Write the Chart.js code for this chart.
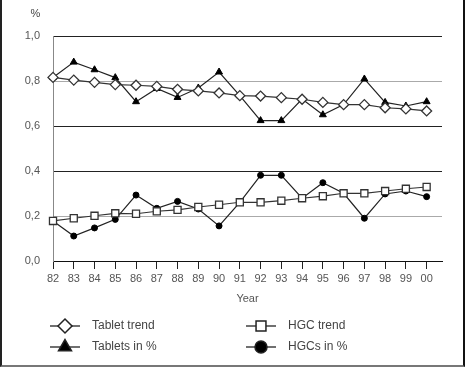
<!DOCTYPE html>
<html>
<head>
    <title>Tablets and HGCs</title>
    <style>
        body { margin: 0; background: #fff; }
        #frame { position: absolute; left: 0; top: 0; width: 465px; height: 367px; box-sizing: border-box;
                 border-left: 2px solid #222; border-right: 2px solid #111; border-bottom: 2px solid #777; }
        #chart { position: absolute; left: 0; top: 0; }
    </style>
</head>
<body>
    <div id="frame"></div>
    <canvas id="chart" width="465" height="369"></canvas>
    <script src="https://cdn.jsdelivr.net/npm/chart.js"></script>
    <script>
        const years = [82, 83, 84, 85, 86, 87, 88, 89, 90, 91, 92, 93, 94, 95, 96, 97, 98, 99, 100];
        const yearLabels = ['82', '83', '84', '85', '86', '87', '88', '89', '90', '91', '92', '93', '94', '95', '96', '97', '98', '99', '00'];
        const tabletTrend = [0.816, 0.804, 0.794, 0.784, 0.781, 0.776, 0.763, 0.756, 0.747, 0.735, 0.733, 0.726, 0.719, 0.705, 0.695, 0.695, 0.681, 0.676, 0.667];
        const tabletsPct = [0.816, 0.884, 0.850, 0.815, 0.708, 0.767, 0.727, 0.769, 0.840, 0.735, 0.624, 0.624, 0.720, 0.650, 0.695, 0.809, 0.705, 0.689, 0.708];
        const hgcTrend = [0.178, 0.190, 0.201, 0.212, 0.210, 0.221, 0.227, 0.240, 0.250, 0.261, 0.261, 0.268, 0.279, 0.288, 0.301, 0.301, 0.311, 0.321, 0.329];
        const hgcsPct = [0.178, 0.111, 0.147, 0.185, 0.293, 0.234, 0.265, 0.231, 0.156, 0.261, 0.381, 0.381, 0.279, 0.348, 0.301, 0.190, 0.298, 0.311, 0.286];
        const yTicks = [0, 0.2, 0.4, 0.6, 0.8, 1.0];

        const pts = arr => arr.map((v, i) => ({ x: years[i], y: v }));
        const font = { family: 'Liberation Sans, Arial, sans-serif', size: 11 };

        // legend: line + big marker, 2x2
        const legendPlugin = {
            id: 'boxLegend',
            afterDraw(chart) {
                const ctx = chart.ctx;
                const spots = [[65, 326], [65, 347], [261, 326], [261, 347]];
                const sizes = [7, 7.5, 7, 6];
                chart.data.datasets.forEach((ds, i) => {
                    const [cx, cy] = spots[i];
                    ctx.save();
                    ctx.strokeStyle = '#222';
                    ctx.lineWidth = 1.3;
                    ctx.beginPath();
                    ctx.moveTo(cx - 15, cy);
                    ctx.lineTo(cx + 15, cy);
                    ctx.stroke();
                    ctx.fillStyle = ds.pointBackgroundColor;
                    ctx.strokeStyle = '#222';
                    ctx.lineWidth = 1.5;
                    Chart.helpers.drawPoint(ctx, { pointStyle: ds.pointStyle, radius: sizes[i], borderWidth: 1.5 }, cx, cy);
                    ctx.fillStyle = '#444';
                    ctx.font = '12px Liberation Sans, Arial, sans-serif';
                    ctx.textBaseline = 'middle';
                    ctx.fillText(ds.label, cx + 27, cy);
                    ctx.restore();
                });
                ctx.save();
                ctx.fillStyle = '#444';
                ctx.font = '11px Liberation Sans, Arial, sans-serif';
                ctx.textAlign = 'center';
                ctx.textBaseline = 'middle';
                ctx.fillText('%', 35.5, 14);
                ctx.restore();
            }
        };

        new Chart(document.getElementById('chart'), {
            type: 'line',
            data: {
                datasets: [
                    { label: 'Tablet trend', data: pts(tabletTrend), pointStyle: 'rectRot', pointRadius: 5, clip: false,
                      pointBackgroundColor: '#fff', borderColor: '#333', pointBorderColor: '#333', borderWidth: 1.2, pointBorderWidth: 1.3 },
                    { label: 'Tablets in %', data: pts(tabletsPct), pointStyle: 'triangle', pointRadius: 4, clip: false,
                      pointBackgroundColor: '#000', borderColor: '#222', pointBorderColor: '#000', borderWidth: 1.2, pointBorderWidth: 1 },
                    { label: 'HGC trend', data: pts(hgcTrend), pointStyle: 'rect', pointRadius: 5, clip: false,
                      pointBackgroundColor: '#fff', borderColor: '#333', pointBorderColor: '#333', borderWidth: 1.2, pointBorderWidth: 1.3 },
                    { label: 'HGCs in %', data: pts(hgcsPct), pointStyle: 'circle', pointRadius: 3, clip: false,
                      pointBackgroundColor: '#000', borderColor: '#222', pointBorderColor: '#000', borderWidth: 1.2, pointBorderWidth: 1 }
                ]
            },
            options: {
                responsive: false,
                animation: false,
                layout: { padding: { left: 0, right: 23, top: 36, bottom: 60 } },
                plugins: { legend: { display: false }, tooltip: { enabled: false } },
                scales: {
                    x: {
                        type: 'linear',
                        min: 82,
                        max: 100.74,
                        afterBuildTicks: s => { s.ticks = years.map(v => ({ value: v })); },
                        afterFit: s => { s.height = 48; },
                        ticks: {
                            autoSkip: false, maxRotation: 0, padding: 3,
                            color: '#555', font: font,
                            callback: v => yearLabels[years.indexOf(Math.round(v))]
                        },
                        grid: { drawOnChartArea: false, drawTicks: true, tickLength: 8, color: '#222', lineWidth: 1 },
                        border: { display: true, color: '#111', width: 1 },
                        title: { display: true, text: 'Year', color: '#555', font: font, padding: { top: 0, bottom: 3 } }
                    },
                    y: {
                        min: 0,
                        max: 1,
                        afterBuildTicks: s => { s.ticks = yTicks.map(v => ({ value: v })); },
                        afterFit: s => { s.width = 53; },
                        ticks: {
                            padding: 13, color: '#555', font: font,
                            callback: v => v.toFixed(1).replace('.', ',')
                        },
                        grid: {
                            drawTicks: false,
                            color: c => (Math.abs(c.tick.value - 0.8) < 1e-6 || Math.abs(c.tick.value - 0.2) < 1e-6) ? '#aaa' : '#222',
                            lineWidth: 1
                        },
                        border: { display: true, color: '#888', width: 1 }
                    }
                }
            },
            plugins: [legendPlugin]
        });
    </script>
</body>
</html>
